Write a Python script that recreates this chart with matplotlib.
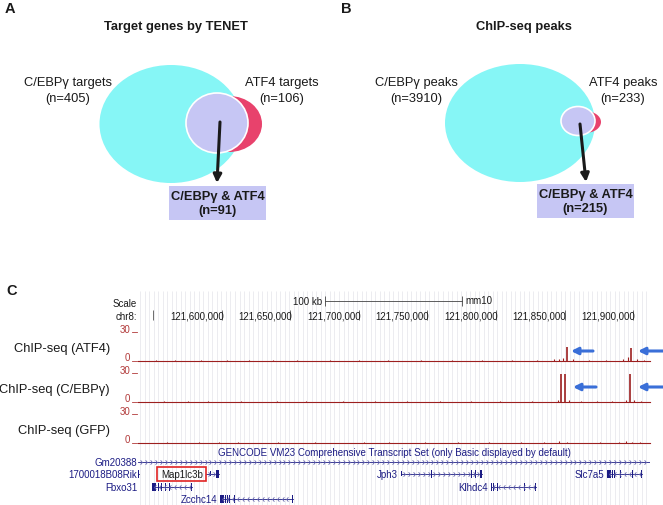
import numpy as np
import matplotlib
matplotlib.use("Agg")
import matplotlib.pyplot as plt
from matplotlib.patches import Ellipse, Rectangle
from matplotlib.path import Path

plt.rcParams['font.family'] = ['Liberation Sans', 'DejaVu Sans']

W, H = 663, 506

# ---- panel A/B venn data
venn_titles = ['Target genes by TENET', 'ChIP-seq peaks']
cebp_names = ['C/EBPγ targets', 'C/EBPγ peaks']
cebp_counts = [405, 3910]
atf4_names = ['ATF4 targets', 'ATF4 peaks']
atf4_counts = [106, 233]
overlap_counts = [91, 215]

# ---- panel C browser data
ruler_ticks = [121550000, 121600000, 121650000, 121700000, 121750000,
               121800000, 121850000, 121900000]
track_names = ['ChIP-seq (ATF4)', 'ChIP-seq (C/EBPγ)', 'ChIP-seq (GFP)']
peak_pos = [[121851500, 121898500],
            [121847400, 121850300, 121897800],
            []]
peak_val = [[15, 13], [29, 29, 29], []]
bg_pos = [[121552000, 121566000, 121585000, 121604000, 121620000, 121637000,
           121655000, 121679000, 121700000, 121721000, 121745000, 121768000,
           121790000, 121812000, 121830000, 121842000, 121846000, 121849000,
           121856000, 121868000, 121880000, 121893000, 121896000, 121903000,
           121908000],
          [121558000, 121575000, 121590000, 121614000, 121640000, 121661000,
           121688000, 121712000, 121735000, 121759000, 121782000, 121803000,
           121826000, 121845000, 121853000, 121862000, 121874000, 121885000,
           121895000, 121901000, 121906000],
          [121560000, 121583000, 121598000, 121612000, 121641000, 121668000,
           121704000, 121722000, 121748000, 121772000, 121795000, 121818000,
           121835000, 121846000, 121852000, 121876000, 121890000, 121895000,
           121899000, 121905000]]
bg_val = [[1.0, 1.2, 1.2, 1.5, 1.0, 1.2, 1.5, 1.0, 1.0, 1.2, 1.2, 1.0,
           1.0, 1.2, 1.0, 2.0, 2.5, 3.5, 2.5, 1.5, 1.2, 2.0, 4.0, 2.0, 1.5],
          [1.0, 1.2, 1.0, 1.5, 1.2, 1.0, 1.0, 1.2, 1.0, 1.0, 1.2, 1.0,
           1.2, 2.5, 2.0, 1.5, 1.2, 1.5, 2.0, 2.5, 1.5],
          [1.5, 1.0, 1.0, 1.2, 1.0, 1.0, 1.0, 1.5, 1.0, 1.0, 1.2, 1.2,
           1.0, 2.0, 1.5, 1.2, 1.5, 2.0, 1.5, 1.2]]

gene_names = ['Gm20388', '1700018B08Rik', 'Map1lc3b', 'Fbxo31', 'Zcchc14',
              'Jph3', 'Klhdc4', 'Slc7a5']
gene_start = [121538700, 121538700, 121588300, 121548900, 121598500,
              121730700, 121796400, 121881000]
gene_end = [121912400, 121539500, 121597800, 121578100, 121651800,
            121789800, 121829200, 121906600]
gene_strand = ['+', '-', '+', '-', '-', '+', '-', '-']
gene_row = [0, 1, 1, 2, 3, 1, 2, 1]
gene_label_in_margin = [True, True, False, True, False, False, False, False]
gene_exons = [
    [],
    [(121538700, 121539500, 1)],
    [(121591500, 121592200, 0), (121595400, 121597800, 1)],
    [(121548900, 121551500, 1), (121553500, 121554200, 1), (121555800, 121556400, 1),
     (121558300, 121558900, 1), (121561500, 121562100, 1), (121566900, 121567500, 1),
     (121577500, 121578100, 1)],
    [(121598500, 121601500, 1), (121602500, 121603200, 1), (121604000, 121604600, 1),
     (121605400, 121606000, 1), (121607000, 121607600, 1), (121609000, 121609600, 1),
     (121615000, 121615500, 1), (121651000, 121651800, 1)],
    [(121730700, 121731300, 0), (121752300, 121753000, 1), (121782000, 121782700, 1),
     (121784500, 121785200, 1), (121788600, 121789800, 1)],
    [(121796400, 121796900, 1), (121797800, 121798200, 1), (121799200, 121799600, 1),
     (121800700, 121801100, 1), (121802100, 121802500, 1), (121804300, 121804700, 1),
     (121808700, 121809100, 1), (121813800, 121814200, 1), (121818900, 121819300, 1),
     (121820400, 121820800, 1), (121828800, 121829200, 1)],
    [(121881000, 121883900, 1), (121884600, 121885100, 1), (121886100, 121886600, 1),
     (121890400, 121890900, 1), (121899200, 121899700, 1), (121906000, 121906600, 1)],
]

fig = plt.figure(figsize=(W / 100, H / 100), dpi=100)
ax = fig.add_axes([0, 0, 1, 1])
ax.set_xlim(0, W)
ax.set_ylim(H, 0)
ax.axis('off')
ax.set_zorder(5)  # labels/arrows above the browser axes

black = '#1a1a1a'
cyan = '#86f6f6'
lav = '#c6c6f4'
pink = '#e8426c'

# venn geometry (pixel layout)
venn_geo = [
    dict(cx=171, cy=125, cw=143, ch=118, px=229, py=125, pw=66, ph=56,
         lx=217, ly=124, lw=62, lh=60, a0=(220, 123), a1=(217, 184),
         box=(169, 187, 97, 34), tx=176, cl=68, al=282),
    dict(cx=520, cy=124, cw=150, ch=118, px=585, py=123, pw=32, ph=22,
         lx=578, ly=122, lw=34, lh=29, a0=(580, 125), a1=(586, 183),
         box=(537, 185, 97, 34), tx=524, cl=416, al=623),
]
for i, g in enumerate(venn_geo):
    ax.add_patch(Ellipse((g['cx'], g['cy']), g['cw'], g['ch'], color=cyan, lw=0))
    ax.add_patch(Ellipse((g['px'], g['py']), g['pw'], g['ph'], color=pink, lw=0))
    ax.add_patch(Ellipse((g['lx'], g['ly']), g['lw'], g['lh'], facecolor=lav,
                         edgecolor='white', lw=1.2))
    ax.annotate('', xy=g['a1'], xytext=g['a0'],
                arrowprops=dict(arrowstyle='-|>', color=black, lw=2.2,
                                mutation_scale=12, shrinkA=0, shrinkB=0))
    bx, by, bw, bh = g['box']
    ax.add_patch(Rectangle((bx, by), bw, bh, color=lav, lw=0))
    ax.text(bx + bw / 2, by + 10, 'C/EBPγ & ATF4', ha='center', va='center',
            fontsize=9.3, fontweight='bold', color=black)
    ax.text(bx + bw / 2, by + 24, '(n=%d)' % overlap_counts[i], ha='center',
            va='center', fontsize=9.3, fontweight='bold', color=black)
    ax.text(g['tx'], 27, venn_titles[i], ha='center', va='center',
            fontsize=9.3, fontweight='bold', color=black)
    ax.text(g['cl'], 83, cebp_names[i], ha='center', va='center', fontsize=9.3, color=black)
    ax.text(g['cl'], 99, '(n=%d)' % cebp_counts[i], ha='center', va='center',
            fontsize=9.3, color=black)
    ax.text(g['al'], 83, atf4_names[i], ha='center', va='center', fontsize=9.3, color=black)
    ax.text(g['al'], 99, '(n=%d)' % atf4_counts[i], ha='center', va='center',
            fontsize=9.3, color=black)

for lab, x, y in [('A', 10, 9), ('B', 346, 9), ('C', 12, 291)]:
    ax.text(x, y, lab, ha='center', va='center', fontsize=10.5,
            fontweight='bold', color=black)

# ---- genome browser
x0_px, x1_px = 138, 650
g0, g1 = 121538700, 121912400
navy = '#1c1c84'
maroon = '#9c1f1f'

gx = fig.add_axes([x0_px / W, 0, (x1_px - x0_px) / W, (H - 290) / H])
gx.set_xlim(g0, g1)
gx.set_ylim(H, 290)
gx.axis('off')

gx.vlines(np.arange(g0 + 1500, g1, 3300), 292, H, color='#e9e9ee', lw=0.6, zorder=0)

# scale bar
gx.plot([121675000, 121775000], [302, 302], color='#444', lw=0.6)
gx.vlines([121675000, 121775000], 297, 307, color='#444', lw=0.6)
gx.text(121673000, 302, '100 kb', ha='right', va='center', fontsize=7, color=black)
gx.text(121778000, 301, 'mm10', ha='left', va='center', fontsize=7, color=black)

# ruler
gx.vlines(ruler_ticks, 311, 321, color='#555', lw=0.6)
for t in ruler_ticks:
    if t >= 121600000:
        gx.text(t + 1200, 317, '{:,}'.format(t), ha='right', va='center',
                fontsize=7, color=black)

ax.text(x0_px - 1, 304, 'Scale', ha='right', va='center', fontsize=7, color=black)
ax.text(x0_px - 1, 317, 'chr8:', ha='right', va='center', fontsize=7, color=black)

# signal tracks
track_top = [333, 374, 415]
track_h = 29
label_y = [349, 390, 431]
for i, name in enumerate(track_names):
    top = track_top[i]
    tax = fig.add_axes([x0_px / W, 1 - (top + track_h) / H,
                        (x1_px - x0_px) / W, track_h / H])
    tax.set_xlim(g0, g1)
    tax.set_ylim(0, 30)
    tax.axis('off')
    tax.axhline(0.3, color=maroon, lw=0.8, clip_on=False)
    tax.vlines(bg_pos[i], 0, bg_val[i], color=maroon, lw=0.8)
    tax.vlines(peak_pos[i], 0, peak_val[i], color=maroon, lw=1.2)
    ax.text(130, top - 3, '30', ha='right', va='center', fontsize=7, color='#b23a3a')
    ax.text(130, top + track_h - 4, '0', ha='right', va='center', fontsize=7,
            color='#b23a3a')
    ax.plot([132, 137], [top, top], color='#b23a3a', lw=0.6)
    ax.plot([132, 137], [top + track_h, top + track_h], color='#b23a3a', lw=0.6)
    ax.text(110, label_y[i], name, ha='right', va='center', fontsize=9.3, color=black)

blue = '#3a6fd8'
for y, xs in [(352, [(593, 571), (663, 638)]), (388, [(596, 573), (663, 638)])]:
    for xa, xb in xs:
        ax.annotate('', xy=(xb, y), xytext=(xa, y),
                    arrowprops=dict(arrowstyle='-|>', color=blue, lw=2.2,
                                    mutation_scale=10, shrinkA=0, shrinkB=0))

# genes
gx.text((g0 + g1) / 2, 453,
        'GENCODE VM23 Comprehensive Transcript Set (only Basic displayed by default)',
        ha='center', va='center', fontsize=7, color=navy)

chev_r = Path([(-0.4, 1), (0.4, 0), (-0.4, -1)], [Path.MOVETO, Path.LINETO, Path.LINETO])
chev_l = Path([(0.4, 1), (-0.4, 0), (0.4, -1)], [Path.MOVETO, Path.LINETO, Path.LINETO])
row_y = [463, 475, 488, 500]
for i, name in enumerate(gene_names):
    y = row_y[gene_row[i]]
    s, e = gene_start[i], gene_end[i]
    gx.plot([s, e], [y, y], color=navy, lw=0.6)
    cx = np.arange(s + 2500, e - 1000, 3600)
    if len(cx):
        gx.plot(cx, [y] * len(cx), ls='none',
                marker=chev_r if gene_strand[i] == '+' else chev_l,
                ms=3.2, mew=0.6, mec='#6a6ab0', mfc='none')
    for a, b, thick in gene_exons[i]:
        hh = 8 if thick else 5
        gx.add_patch(Rectangle((a, y - hh / 2), b - a, hh, color=navy, lw=0))
    if gene_label_in_margin[i]:
        ax.text(x0_px - 1, y, name, ha='right', va='center', fontsize=7, color=navy)
    else:
        gx.text(s - 2200, y, name, ha='right', va='center', fontsize=7,
                color=navy if name != 'Map1lc3b' else black)

ax.add_patch(Rectangle((157, 468), 49, 14, fill=False, edgecolor='#e02424', lw=1.2))

fig.savefig('out.png', dpi=100)
